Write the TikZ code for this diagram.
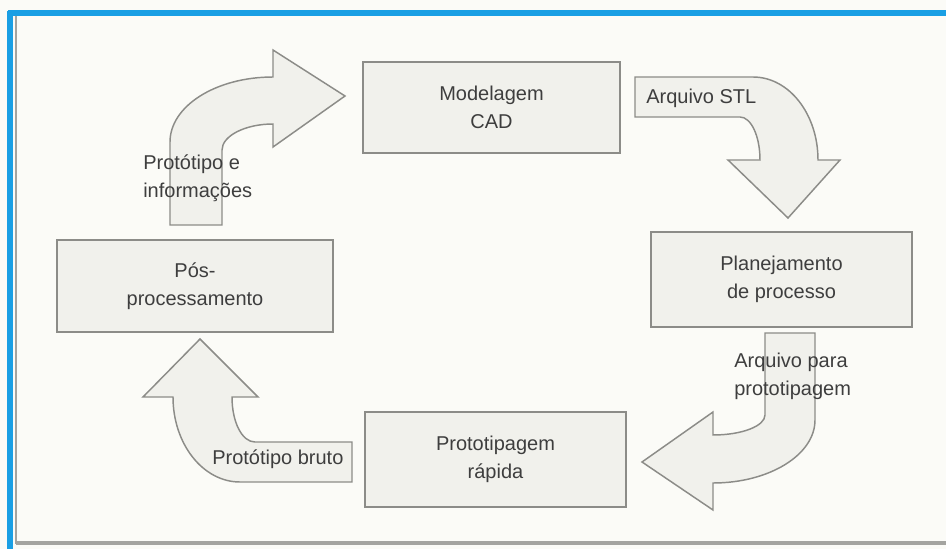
\documentclass[tikz,border=0pt]{standalone}
\usepackage{fontspec}
\setmainfont{Liberation Sans}
\definecolor{paper}{HTML}{FBFBF7}
\definecolor{frameblue}{HTML}{1A9FE4}
\definecolor{edgegray}{HTML}{A4A4A0}
\definecolor{boxfill}{HTML}{F1F1EC}
\definecolor{boxline}{HTML}{8C8C88}
\definecolor{ink}{HTML}{3E3E3E}
\def\u{0.75pt}
\tikzset{
  stage/.style={draw=boxline, fill=boxfill, line width=1.1pt, inner sep=0pt,
    align=center, text=ink, font=\fontsize{15}{21}\selectfont},
  blockarrow/.style={draw=boxline, fill=boxfill, line width=1.1pt, line join=miter},
  tag/.style={inner sep=0pt, align=left, text=ink, font=\fontsize{15}{21}\selectfont}
}
\begin{document}
\begin{tikzpicture}[x=0.75pt, y=-0.75pt]
  % page and frame
  \fill[paper] (0,0) rectangle (946,549);
  \useasboundingbox (0,0) rectangle (946,549);
  \draw[edgegray, line width=1.5pt] (16,16) -- (16,544);
  \draw[edgegray, line width=3pt] (16,543) -- (946,543);
  \draw[frameblue, line width=3.8pt] (8,13) -- (946,13);
  \draw[frameblue, line width=3.8pt] (10,11) -- (10,549);

  % process stages
  \node[stage, minimum width=257*\u, minimum height=91*\u] (cad) at (491.5,107.5) {Modelagem\\CAD};
  \node[stage, minimum width=261*\u, minimum height=95*\u] (plan) at (781.5,279.5) {Planejamento\\de processo};
  \node[stage, minimum width=261*\u, minimum height=95*\u] (proto) at (495.5,459.5) {Prototipagem\\rápida};
  \node[stage, minimum width=276*\u, minimum height=92*\u] (pos) at (195,286) {Pós-\\processamento};

  % curved block arrows between the stages
  % post-processing -> CAD modelling
  \draw[blockarrow] (170,225) -- (170,142)
    .. controls (170,106) and (216,77) .. (273,77)
    -- (273,50) -- (345,96) -- (273,147) -- (273,124)
    .. controls (245,124) and (222,136) .. (222,150)
    -- (222,225) -- cycle;
  % CAD modelling -> process planning
  \draw[blockarrow] (635,77) -- (753,77)
    .. controls (789,77) and (818,114) .. (818,160)
    -- (840,160) -- (788,218) -- (728,160) -- (760,160)
    .. controls (760,136) and (751,117) .. (740,117)
    -- (635,117) -- cycle;
  % process planning -> rapid prototyping
  \draw[blockarrow] (765,333) -- (815,333) -- (815,420)
    .. controls (815,455) and (769,483) .. (713,483)
    -- (713,510) -- (642,462) -- (713,412) -- (713,435)
    .. controls (742,435) and (765,426) .. (765,415)
    -- cycle;
  % rapid prototyping -> post-processing
  \draw[blockarrow] (352,442) -- (352,482) -- (240,482)
    .. controls (203,482) and (173,444) .. (173,397)
    -- (143,397) -- (200,339) -- (258,397) -- (232,397)
    .. controls (232,422) and (242,442) .. (255,442)
    -- cycle;

  % arrow labels
  \node[tag, anchor=west] (lbinfo) at (143,178) {Protótipo e\\informações};
  \node[tag, anchor=west] (lbstl) at (646,98) {Arquivo STL};
  \node[tag, anchor=west] (lbfile) at (734,376) {Arquivo para\\prototipagem};
  \node[tag, anchor=west] (lbraw) at (212,459) {Protótipo bruto};
\end{tikzpicture}
\end{document}
